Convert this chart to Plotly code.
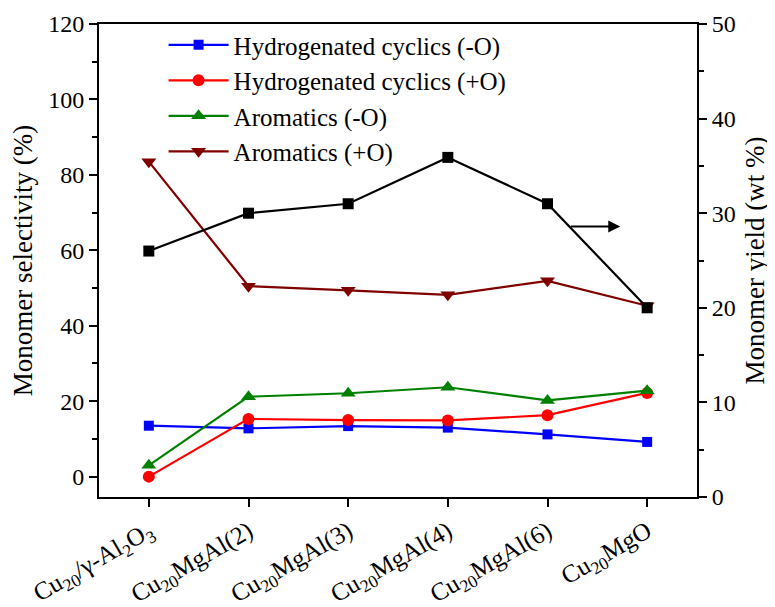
import plotly.graph_objects as go

categories = [
    "Cu<sub>20</sub>/γ-Al<sub>2</sub>O<sub>3</sub>",
    "Cu<sub>20</sub>MgAl(2)",
    "Cu<sub>20</sub>MgAl(3)",
    "Cu<sub>20</sub>MgAl(4)",
    "Cu<sub>20</sub>MgAl(6)",
    "Cu<sub>20</sub>MgO",
]
hydro_cyclics_minus_o = [13.5, 12.8, 13.4, 13.0, 11.2, 9.2]
hydro_cyclics_plus_o = [0.0, 15.3, 15.0, 14.9, 16.3, 22.2]
aromatics_minus_o = [3.0, 21.2, 22.1, 23.7, 20.2, 22.8]
aromatics_plus_o = [83.5, 50.5, 49.4, 48.2, 51.9, 45.3]
monomer_yield = [26.0, 30.0, 31.0, 35.9, 31.0, 20.0]

FONT = "Liberation Serif, Times New Roman, Times, serif"
xs = list(range(len(categories)))

fig = go.Figure()
series = [
    ("Hydrogenated cyclics (-O)", hydro_cyclics_minus_o, "#0000FF", "square", 10),
    ("Hydrogenated cyclics (+O)", hydro_cyclics_plus_o, "#FF0000", "circle", 12),
    ("Aromatics (-O)", aromatics_minus_o, "#008000", "triangle-up", 13),
    ("Aromatics (+O)", aromatics_plus_o, "#800000", "triangle-down", 13),
]
for name, vals, color, sym, sz in series:
    fig.add_trace(go.Scatter(
        x=xs, y=vals, name=name, mode="lines+markers",
        line=dict(color=color, width=2.2),
        marker=dict(symbol=sym, size=sz, color=color),
    ))

fig.add_trace(go.Scatter(
    x=xs, y=monomer_yield, name="Monomer yield", mode="lines+markers",
    line=dict(color="#000000", width=2.2),
    marker=dict(symbol="square", size=11, color="#000000"),
    yaxis="y2", showlegend=False,
))

fig.add_annotation(
    x=4.73, y=28.6, xref="x", yref="y2",
    ax=4.22, ay=28.6, axref="x", ayref="y2",
    showarrow=True, arrowhead=2, arrowsize=1.2, arrowwidth=2, arrowcolor="#000000",
    text="",
)

fig.update_layout(
    width=767, height=599,
    margin=dict(l=91, r=78, t=16, b=110, autoexpand=False),
    paper_bgcolor="white", plot_bgcolor="white",
    font=dict(family=FONT, size=24, color="black"),
    showlegend=True,
    legend=dict(
        x=0.108, y=1.004, xanchor="left", yanchor="top",
        bgcolor="rgba(0,0,0,0)", font=dict(family=FONT, size=25),
        itemwidth=60, tracegroupgap=0,
    ),
    xaxis=dict(
        range=[-0.5, 5.5], tickmode="array", tickvals=xs, ticktext=categories,
        tickangle=-30, showgrid=False, zeroline=False, automargin=False,
        showline=True, linecolor="black", linewidth=2, mirror=True,
        ticks="outside", ticklen=8, tickwidth=2, tickcolor="black",
        tickfont=dict(family=FONT, size=25),
    ),
    yaxis=dict(
        range=[-5.4, 120], tickmode="linear", tick0=0, dtick=20,
        showgrid=False, zeroline=False, automargin=False,
        showline=True, linecolor="black", linewidth=2,
        ticks="outside", ticklen=8, tickwidth=2, tickcolor="black",
        minor=dict(dtick=10, tick0=0, ticks="outside", ticklen=5, tickwidth=2, tickcolor="black"),
        tickfont=dict(family=FONT, size=24),
        title=dict(text="Monomer selectivity (%)", font=dict(family=FONT, size=27), standoff=8),
    ),
    yaxis2=dict(
        range=[0, 50], tickmode="linear", tick0=0, dtick=10,
        overlaying="y", side="right",
        showgrid=False, zeroline=False, automargin=False,
        showline=True, linecolor="black", linewidth=2,
        ticks="outside", ticklen=8, tickwidth=2, tickcolor="black",
        minor=dict(dtick=5, tick0=0, ticks="outside", ticklen=5, tickwidth=2, tickcolor="black"),
        tickfont=dict(family=FONT, size=24),
        title=dict(text="Monomer yield (wt %)", font=dict(family=FONT, size=27), standoff=10),
    ),
)

fig.write_html("out.html")
